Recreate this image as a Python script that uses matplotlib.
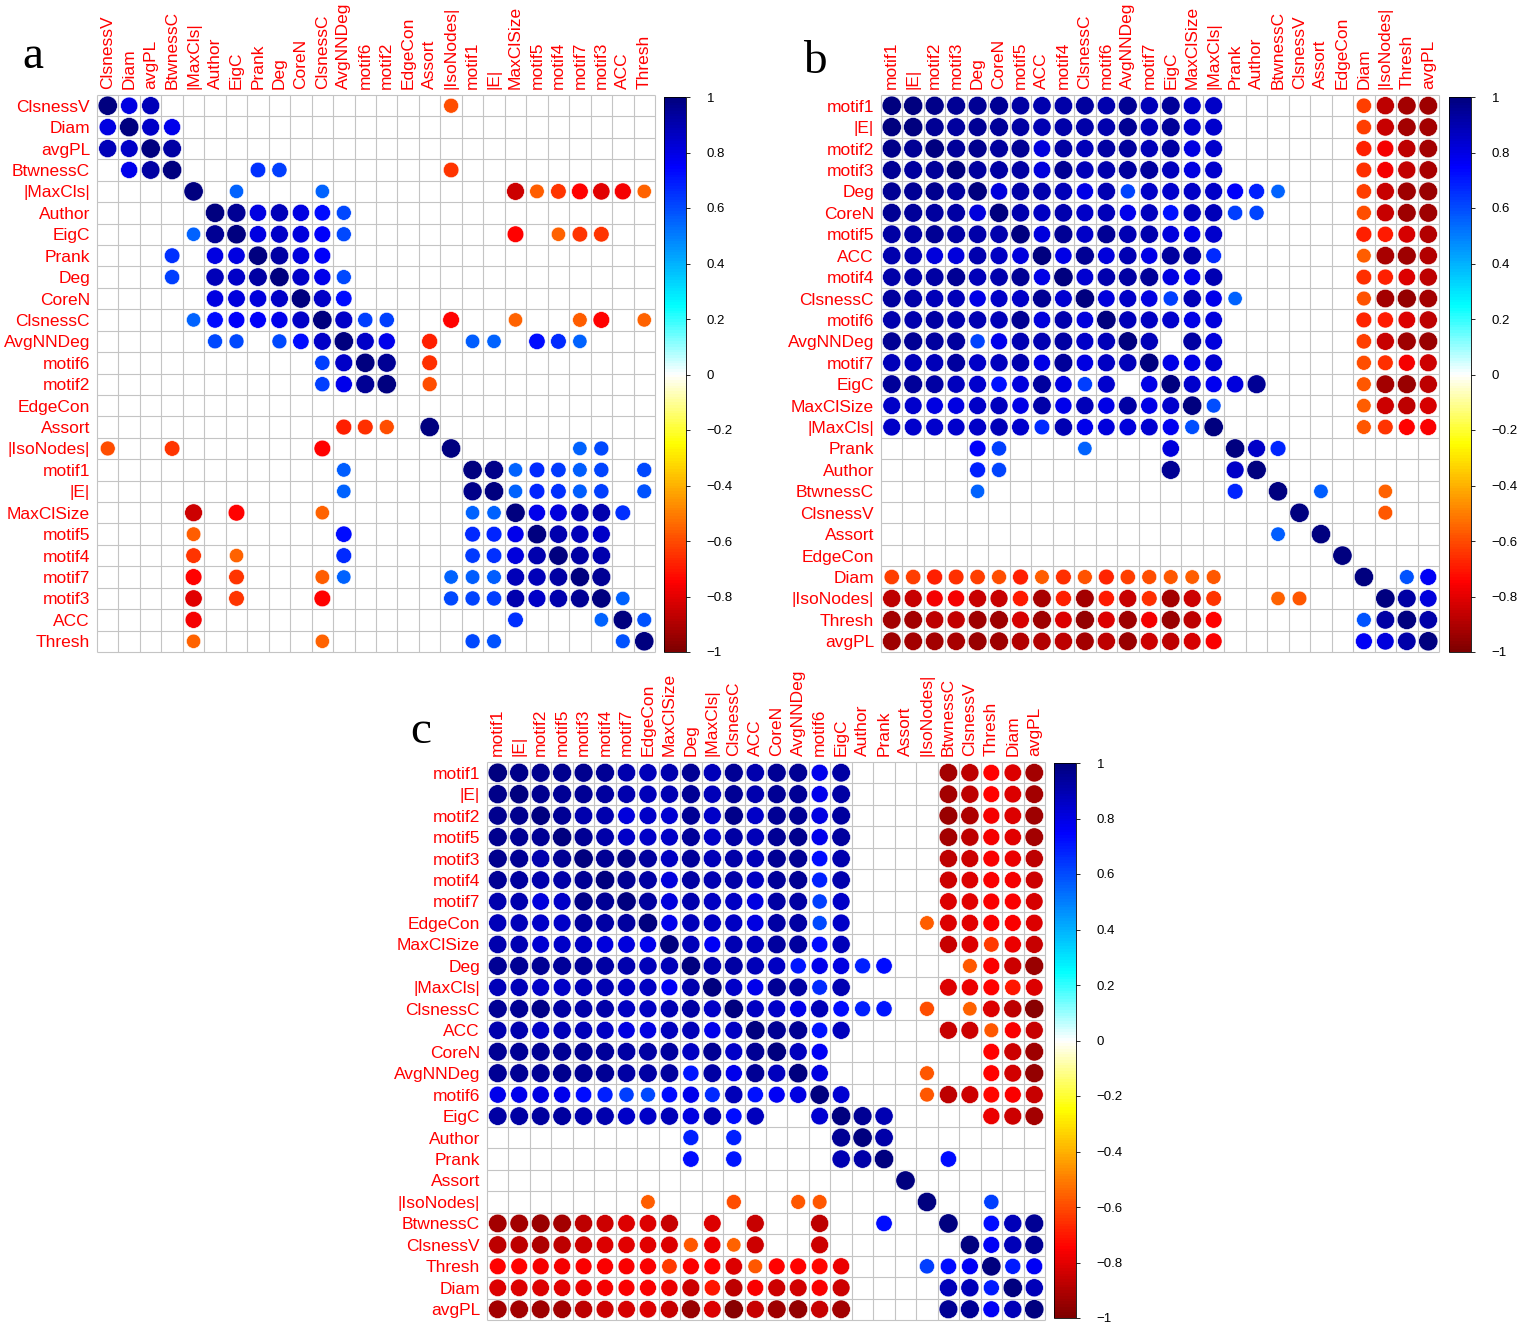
import numpy as np
import matplotlib
matplotlib.use("Agg")
import matplotlib.pyplot as plt
from matplotlib.colors import LinearSegmentedColormap, Normalize
from matplotlib.collections import EllipseCollection
import matplotlib.cm as cm

nan = np.nan

# ---------------- variables (row/column order of each panel) ----------------
labels_a = ["ClsnessV", "Diam", "avgPL", "BtwnessC", "|MaxCls|", "Author", "EigC",
            "Prank", "Deg", "CoreN", "ClsnessC", "AvgNNDeg", "motif6", "motif2",
            "EdgeCon", "Assort", "|IsoNodes|", "motif1", "|E|", "MaxClSize", "motif5",
            "motif4", "motif7", "motif3", "ACC", "Thresh"]

labels_b = ["motif1", "|E|", "motif2", "motif3", "Deg", "CoreN", "motif5", "ACC",
            "motif4", "ClsnessC", "motif6", "AvgNNDeg", "motif7", "EigC", "MaxClSize",
            "|MaxCls|", "Prank", "Author", "BtwnessC", "ClsnessV", "Assort", "EdgeCon",
            "Diam", "|IsoNodes|", "Thresh", "avgPL"]

labels_c = ["motif1", "|E|", "motif2", "motif5", "motif3", "motif4", "motif7", "EdgeCon",
            "MaxClSize", "Deg", "|MaxCls|", "ClsnessC", "ACC", "CoreN", "AvgNNDeg",
            "motif6", "EigC", "Author", "Prank", "Assort", "|IsoNodes|", "BtwnessC",
            "ClsnessV", "Thresh", "Diam", "avgPL"]

# ---------------- correlations: lower triangle, 0 = not significant ----------------
corr_a = [
    [1],
    [.80, 1],
    [.88, .85, 1],
    [0, .78, .92, 1],
    [0, 0, 0, 0, 1],
    [0, 0, 0, 0, 0, 1],
    [0, 0, 0, 0, .55, .95, 1],
    [0, 0, 0, .65, 0, .80, .80, 1],
    [0, 0, 0, .62, 0, .88, .85, .92, 1],
    [0, 0, 0, 0, 0, .80, .82, .82, .85, 1],
    [0, 0, 0, 0, .55, .72, .75, .75, .78, .85, 1],
    [0, 0, 0, 0, 0, .60, .60, 0, .60, .72, .85, 1],
    [0, 0, 0, 0, 0, 0, 0, 0, 0, 0, .62, .85, 1],
    [0, 0, 0, 0, 0, 0, 0, 0, 0, 0, .62, .78, .95, 1],
    [0, 0, 0, 0, 0, 0, 0, 0, 0, 0, 0, 0, 0, 0, nan],
    [0, 0, 0, 0, 0, 0, 0, 0, 0, 0, 0, -.68, -.66, -.60, 0, 1],
    [-.60, 0, 0, -.65, 0, 0, 0, 0, 0, 0, -.75, 0, 0, 0, 0, 0, 1],
    [0, 0, 0, 0, 0, 0, 0, 0, 0, 0, 0, .56, 0, 0, 0, 0, 0, 1],
    [0, 0, 0, 0, 0, 0, 0, 0, 0, 0, 0, .55, 0, 0, 0, 0, 0, .97, 1],
    [0, 0, 0, 0, -.85, 0, -.75, 0, 0, 0, -.55, 0, 0, 0, 0, 0, 0, .55, .55, 1],
    [0, 0, 0, 0, -.57, 0, 0, 0, 0, 0, 0, .72, 0, 0, 0, 0, 0, .66, .67, .78, 1],
    [0, 0, 0, 0, -.65, 0, -.55, 0, 0, 0, 0, .66, 0, 0, 0, 0, 0, .63, .65, .82, .90, 1],
    [0, 0, 0, 0, -.75, 0, -.65, 0, 0, 0, -.57, .55, 0, 0, 0, 0, .55, .57, .57, .88, .88, .92, 1],
    [0, 0, 0, 0, -.80, 0, -.65, 0, 0, 0, -.75, 0, 0, 0, 0, 0, .60, .61, .62, .90, .85, .90, .95, 1],
    [0, 0, 0, 0, -.77, 0, 0, 0, 0, 0, 0, 0, 0, 0, 0, 0, 0, 0, 0, .65, 0, 0, 0, .55, 1],
    [0, 0, 0, 0, -.55, 0, 0, 0, 0, 0, -.55, 0, 0, 0, 0, 0, 0, .60, .58, 0, 0, 0, 0, 0, .58, 1],
]

corr_b = [
    [1],
    [.99, 1],
    [.97, .95, 1],
    [.95, .93, .94, 1],
    [.95, .95, .96, .93, 1],
    [.95, .94, .93, .92, .81, 1],
    [.92, .92, .95, .92, .91, .90, 1],
    [.90, .89, .82, .82, .90, .86, .81, 1],
    [.91, .91, .92, .95, .88, .90, .95, .79, 1],
    [.93, .91, .88, .88, .79, .85, .85, .95, .83, 1],
    [.90, .90, .92, .90, .89, .88, .95, .81, .90, .81, 1],
    [.95, .95, .93, .93, .61, .78, .89, .89, .92, .85, .88, 1],
    [.88, .88, .88, .93, .85, .87, .90, .79, .94, .80, .86, .88, 1],
    [.94, .94, .92, .87, .84, .71, .82, .93, .80, .62, .84, 0, .79, 1],
    [.85, .84, .80, .80, .85, .87, .79, .91, .78, .88, .79, .92, .79, .84, 1],
    [.85, .84, .84, .84, .85, .88, .84, .66, .89, .78, .81, .82, .83, .77, .59, 1],
    [0, 0, 0, 0, .75, .62, 0, 0, 0, .55, 0, 0, 0, .81, 0, 0, 1],
    [0, 0, 0, 0, .68, .61, 0, 0, 0, 0, 0, 0, 0, .95, 0, 0, .85, 1],
    [0, 0, 0, 0, .55, 0, 0, 0, 0, 0, 0, 0, 0, 0, 0, 0, .67, 0, 1],
    [0, 0, 0, 0, 0, 0, 0, 0, 0, 0, 0, 0, 0, 0, 0, 0, 0, 0, 0, 1],
    [0, 0, 0, 0, 0, 0, 0, 0, 0, 0, 0, 0, 0, 0, 0, 0, 0, 0, .56, 0, 1],
    [0, 0, 0, 0, 0, 0, 0, 0, 0, 0, 0, 0, 0, 0, 0, 0, 0, 0, 0, 0, 0, 1],
    [-.63, -.63, -.68, -.66, -.63, -.60, -.68, -.57, -.66, -.59, -.67, -.63, -.60,
     -.58, -.56, -.58, 0, 0, 0, 0, 0, 0, 1],
    [-.88, -.86, -.77, -.77, -.86, -.86, -.70, -.91, -.69, -.92, -.70, -.86, -.66,
     -.92, -.85, -.65, 0, 0, -.55, -.58, 0, 0, 0, 1],
    [-.92, -.92, -.88, -.87, -.94, -.93, -.83, -.94, -.81, -.96, -.82, -.94, -.77,
     -.95, -.88, -.75, 0, 0, 0, 0, 0, 0, .58, .92, 1],
    [-.93, -.92, -.92, -.91, -.95, -.94, -.89, -.89, -.88, -.92, -.88, -.95, -.85,
     -.88, -.83, -.76, 0, 0, 0, 0, 0, 0, .76, .82, .91, 1],
]

corr_c = [
    [1],
    [.97, 1],
    [.96, .96, 1],
    [.96, .95, .95, 1],
    [.96, .95, .90, .95, 1],
    [.95, .93, .90, .91, .95, 1],
    [.90, .90, .82, .85, .97, .95, 1],
    [.88, .88, .85, .85, .93, .92, .93, 1],
    [.90, .89, .83, .85, .86, .82, .82, .78, 1],
    [.95, .95, .95, .94, .94, .92, .90, .88, .88, 1],
    [.88, .88, .85, .85, .88, .89, .86, .86, .76, .90, 1],
    [.95, .95, .97, .92, .91, .91, .86, .86, .89, .92, .85, 1],
    [.90, .90, .85, .88, .88, .86, .80, .80, .87, .88, .78, .86, 1],
    [.95, .95, .95, .95, .95, .94, .92, .92, .93, .86, .95, .85, .95, 1],
    [.95, .95, .95, .96, .95, .95, .92, .92, .93, .70, .92, .78, .95, .87, 1],
    [.78, .78, .80, .78, .72, .68, .62, .60, .72, .78, .66, .88, .71, .76, .80, 1],
    [.92, .92, .93, .93, .90, .90, .85, .85, .88, .80, .89, .72, .87, 0, 0, .83, 1],
    [0, 0, 0, 0, 0, 0, 0, 0, 0, .68, 0, .68, 0, 0, 0, 0, .95, 1],
    [0, 0, 0, 0, 0, 0, 0, 0, 0, .72, 0, .70, 0, 0, 0, 0, .89, .91, 1],
    [0, 0, 0, 0, 0, 0, 0, 0, 0, 0, 0, 0, 0, 0, 0, 0, 0, 0, 0, 1],
    [0, 0, 0, 0, 0, 0, 0, -.56, 0, 0, 0, -.60, 0, 0, -.58, -.58, 0, 0, 0, 0, 1],
    [-.92, -.92, -.95, -.92, -.88, -.85, -.82, -.82, -.86, 0, -.82, 0, -.86,
     0, 0, -.88, 0, 0, .72, 0, 0, 1],
    [-.88, -.88, -.90, -.88, -.85, -.82, -.80, -.80, -.82, -.58, -.78, -.55, -.85,
     0, 0, -.85, 0, 0, 0, 0, 0, 0, 1],
    [-.75, -.75, -.77, -.77, -.76, -.76, -.76, -.76, -.64, -.76, -.75, -.81, -.58,
     -.75, -.75, -.74, -.78, 0, 0, 0, .62, .72, .76, 1],
    [-.82, -.82, -.82, -.80, -.78, -.77, -.76, -.76, -.78, -.85, -.71, -.88, -.76,
     -.85, -.84, -.76, -.85, 0, 0, 0, 0, .88, .88, .69, 1],
    [-.92, -.92, -.93, -.92, -.88, -.85, -.83, -.82, -.86, -.95, -.82, -.98, -.86,
     -.93, -.96, -.86, -.92, 0, 0, 0, 0, .95, .95, .76, .88, 1],
]

cbar_ticks = [1, 0.8, 0.6, 0.4, 0.2, 0, -0.2, -0.4, -0.6, -0.8, -1]

# ---------------- drawing ----------------
W, H = 1527, 1323
fig = plt.figure(figsize=(W / 100, H / 100), dpi=100)
fig.patch.set_facecolor("white")

cmap = LinearSegmentedColormap.from_list(
    "corr", ["#7F0000", "#FF0000", "#FF7F00", "#FFFF00", "#FFFFFF",
             "#00FFFF", "#007FFF", "#0000FF", "#00007F"], N=200)
norm = Normalize(-1, 1)

LABEL_FONT = "Liberation Sans"
LABEL_SIZE = 12.5
GRID_COLOR = "#C4C4C4"


def px_rect(left, top, width, height):
    return [left / W, 1 - (top + height) / H, width / W, height / H]


def full_matrix(lower):
    n = len(lower)
    m = np.zeros((n, n))
    for i, row in enumerate(lower):
        assert len(row) == i + 1, (i, len(row))
        for j, v in enumerate(row):
            m[i, j] = v
            m[j, i] = v
    return m


def fmt_tick(v):
    if v == 0:
        return "0"
    s = ("%g" % abs(v))
    return ("\u2212" + s) if v < 0 else s


def draw_panel(grid_box, labels, lower, cbar_box, letter, letter_xy):
    n = len(labels)
    m = full_matrix(lower)
    ax = fig.add_axes(px_rect(*grid_box))
    ax.set_xlim(0, n)
    ax.set_ylim(n, 0)
    for k in range(n + 1):
        ax.plot([0, n], [k, k], color=GRID_COLOR, lw=0.8, zorder=1,
                solid_capstyle="butt", clip_on=False)
        ax.plot([k, k], [0, n], color=GRID_COLOR, lw=0.8, zorder=1,
                solid_capstyle="butt", clip_on=False)
    filled = np.nan_to_num(m) != 0
    ii, jj = np.nonzero(filled)
    vals = m[ii, jj]
    d = 0.9 * np.sqrt(np.abs(vals))
    circles = EllipseCollection(d, d, np.zeros_like(d), units="xy",
                                offsets=np.column_stack([jj + 0.5, ii + 0.5]),
                                offset_transform=ax.transData,
                                facecolors=cmap(norm(vals)),
                                edgecolors="white", linewidths=0.4, zorder=2)
    ax.add_collection(circles)
    for s in ax.spines.values():
        s.set_visible(False)
    ax.set_xticks(np.arange(n) + 0.5)
    ax.set_yticks(np.arange(n) + 0.5)
    ax.xaxis.tick_top()
    ax.set_xticklabels(labels, rotation=90, color="#FF0000",
                       fontsize=LABEL_SIZE, family=LABEL_FONT)
    ax.set_yticklabels(labels, color="#FF0000", fontsize=LABEL_SIZE,
                       family=LABEL_FONT)
    ax.tick_params(axis="x", length=0, pad=4)
    ax.tick_params(axis="y", length=0, pad=5)

    cax = fig.add_axes(px_rect(*cbar_box))
    sm = cm.ScalarMappable(norm=norm, cmap=cmap)
    cb = fig.colorbar(sm, cax=cax, ticks=cbar_ticks)
    cb.ax.set_yticklabels([fmt_tick(t) for t in cbar_ticks],
                          fontsize=9.5, family=LABEL_FONT)
    cb.ax.tick_params(length=3, width=0.6, pad=12)
    cb.outline.set_linewidth(0.6)

    fig.text(letter_xy[0] / W, 1 - letter_xy[1] / H, letter, fontsize=34,
             family="Liberation Serif", ha="center", va="center")


draw_panel((97, 95, 558, 557), labels_a, corr_a, (664, 97, 22, 555), "a", (33, 57))
draw_panel((881, 95, 558, 557), labels_b, corr_b, (1449, 97, 22, 555), "b", (815, 62))
draw_panel((487, 762, 558, 558), labels_c, corr_c, (1054, 763, 22, 555), "c", (421, 732))

fig.savefig("out.png", dpi=100, facecolor="white")
